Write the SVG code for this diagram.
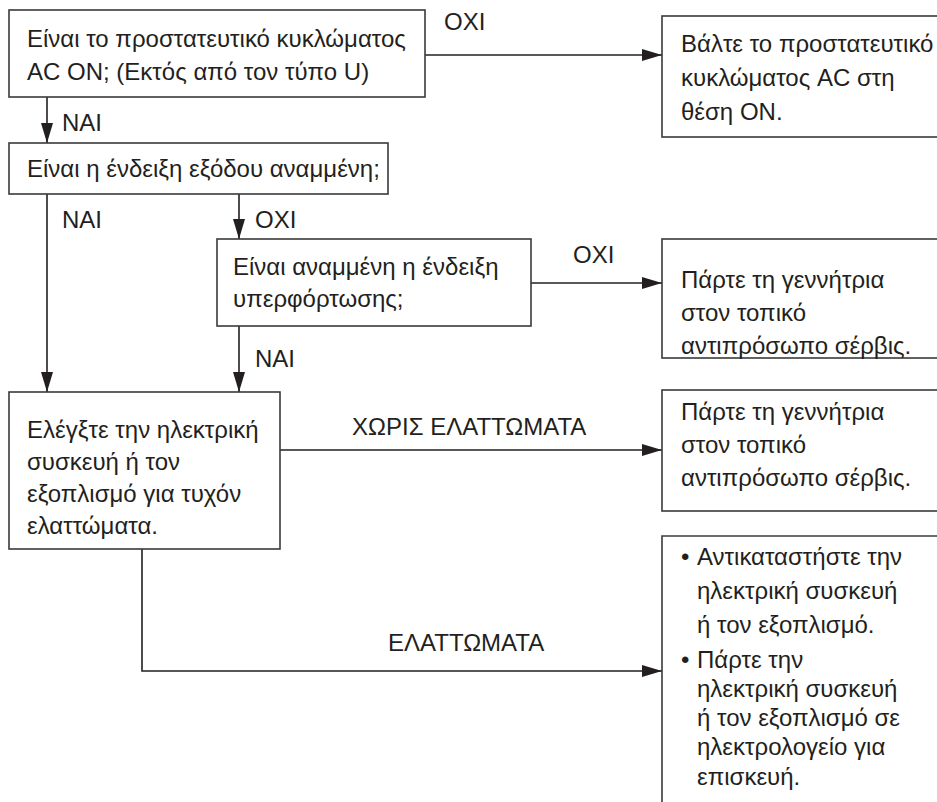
<svg xmlns="http://www.w3.org/2000/svg" width="937" height="802" viewBox="0 0 937 802">
<style>
text{font-family:"Liberation Sans","Noto Sans",Arial,sans-serif;font-size:24px;fill:#231f20}
.box{fill:#fff;stroke:#3a3a3a;stroke-width:1.6}
.ln{fill:none;stroke:#231f20;stroke-width:1.6}
</style>
<defs>
<marker id="ah" markerUnits="userSpaceOnUse" markerWidth="20" markerHeight="12" refX="20" refY="6" orient="auto">
<path d="M0,0 L20,6 L0,12 z" fill="#231f20"/>
</marker>
</defs>
<rect width="937" height="802" fill="#fff"/>
<g id="connectors">
<path class="ln" d="M425,55 H662" marker-end="url(#ah)"/>
<text x="444" y="30">OXI</text>
<path class="ln" d="M47,97 V143" marker-end="url(#ah)"/>
<text x="62" y="131">NAI</text>
<path class="ln" d="M47,194 V392" marker-end="url(#ah)"/>
<text x="62" y="228">NAI</text>
<path class="ln" d="M239,194 V239" marker-end="url(#ah)"/>
<text x="255" y="228">OXI</text>
<path class="ln" d="M531,283 H662" marker-end="url(#ah)"/>
<text x="573" y="263">OXI</text>
<path class="ln" d="M239,326 V392" marker-end="url(#ah)"/>
<text x="255" y="367">NAI</text>
<path class="ln" d="M280,450 H662" marker-end="url(#ah)"/>
<text x="352" y="435">ΧΩΡΙΣ ΕΛΑΤΤΩΜΑΤΑ</text>
<path class="ln" d="M142,549 V671 H662" marker-end="url(#ah)"/>
<text x="388" y="651">ΕΛΑΤΤΩΜΑΤΑ</text>
</g>
<g id="n1">
<rect class="box" x="9" y="10" width="416" height="87"/>
<text x="27" y="47">Είναι το προστατευτικό κυκλώματος</text>
<text x="27" y="80">AC ON; (Εκτός από τον τύπο U)</text>
</g>
<g id="n2">
<rect class="box" x="9" y="143" width="379" height="51"/>
<text x="27" y="177">Είναι η ένδειξη εξόδου αναμμένη;</text>
</g>
<g id="n3">
<rect class="box" x="662" y="16" width="300" height="121"/>
<text x="681" y="52">Βάλτε το προστατευτικό</text>
<text x="681" y="86">κυκλώματος AC στη</text>
<text x="681" y="120">θέση ON.</text>
</g>
<g id="n4">
<rect class="box" x="217" y="239" width="314" height="87"/>
<text x="233" y="275">Είναι αναμμένη η ένδειξη</text>
<text x="233" y="307">υπερφόρτωσης;</text>
</g>
<g id="n5">
<rect class="box" x="662" y="239" width="300" height="119"/>
<text x="681" y="288">Πάρτε τη γεννήτρια</text>
<text x="681" y="321">στον τοπικό</text>
<text x="681" y="354">αντιπρόσωπο σέρβις.</text>
</g>
<g id="n6">
<rect class="box" x="9" y="392" width="271" height="157"/>
<text x="27" y="438">Ελέγξτε την ηλεκτρική</text>
<text x="27" y="470">συσκευή ή τον</text>
<text x="27" y="502">εξοπλισμό για τυχόν</text>
<text x="27" y="534">ελαττώματα.</text>
</g>
<g id="n7">
<rect class="box" x="662" y="390" width="300" height="121"/>
<text x="681" y="420">Πάρτε τη γεννήτρια</text>
<text x="681" y="453">στον τοπικό</text>
<text x="681" y="486">αντιπρόσωπο σέρβις.</text>
</g>
<g id="n8">
<path class="box" d="M962,536 H662 V812"/>
<text x="681" y="565">•</text>
<text x="697" y="565">Αντικαταστήστε την</text>
<text x="697" y="599">ηλεκτρική συσκευή</text>
<text x="697" y="633">ή τον εξοπλισμό.</text>
<text x="681" y="668">•</text>
<text x="697" y="668">Πάρτε την</text>
<text x="697" y="697">ηλεκτρική συσκευή</text>
<text x="697" y="726">ή τον εξοπλισμό σε</text>
<text x="697" y="755">ηλεκτρολογείο για</text>
<text x="697" y="785">επισκευή.</text>
</g>
</svg>
